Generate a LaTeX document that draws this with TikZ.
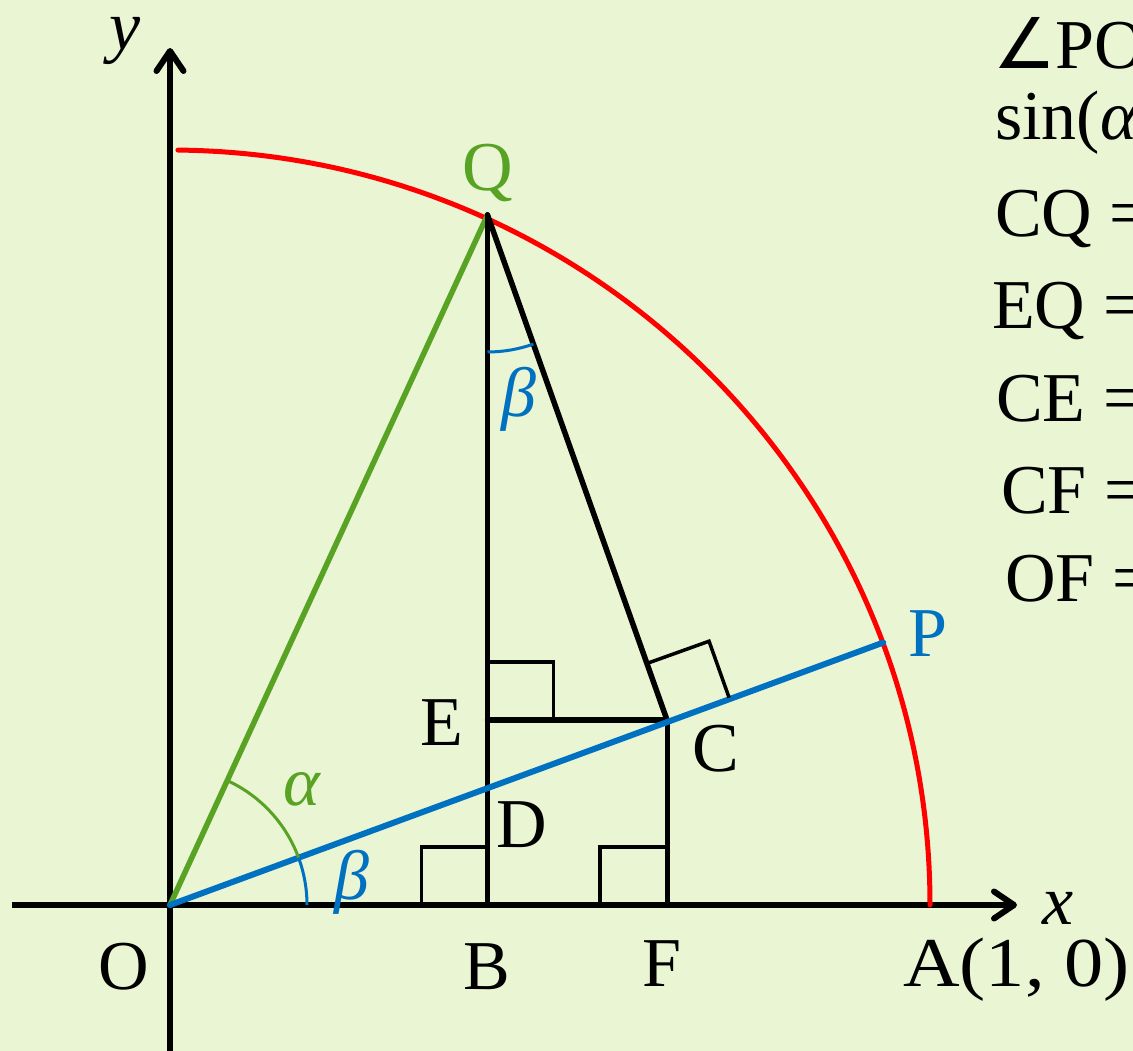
\documentclass[tikz,border=0pt]{standalone}
\usepackage{fontspec}
\setmainfont{Liberation Serif}
\newfontfamily\dejavu{DejaVu Sans}
\newfontfamily\widefont[FakeStretch=1.12]{Liberation Serif}
\usetikzlibrary{arrows.meta,calc,angles}
\definecolor{bgc}{RGB}{233,245,211}
\definecolor{gr}{RGB}{88,162,36}
\definecolor{bl}{RGB}{0,112,192}
\begin{document}
\begin{tikzpicture}[x=1pt,y=1pt,
  lab/.style={inner sep=0pt, anchor=base, font=\fontsize{70}{70}\selectfont},
  axisline/.style={line width=6pt, -{Straight Barb[length=20pt,width=27pt,round]}},
  seg/.style={line width=5.5pt, line cap=round},
  rmark/.style={line width=3.5pt},
  anglearc/.style={line width=3pt, angle radius=137pt}]
\useasboundingbox (0,0) rectangle (1133,1051);
\clip (0,0) rectangle (1133,1051);
\fill[bgc] (0,0) rectangle (1133,1051);
% points
\coordinate (O) at (170,146);
\coordinate (A) at (930,146);
\coordinate (Q) at (487.5,836);
\coordinate (B) at (487.5,146);
\coordinate (F) at (667,146);
\coordinate (C) at (667,331);
\coordinate (E) at (487.5,331);
\coordinate (P) at ($(O)+(20.2:760)$);
\coordinate (D) at (intersection of O--P and Q--B);
\coordinate (xs) at (12,146);
\coordinate (xe) at (1017,146);
\coordinate (ys) at (170,0);
\coordinate (ye) at (170,1003);
% axes
\draw[axisline] (xs) -- (xe);
\draw[axisline] (ys) -- (ye);
% unit arc
\draw[red, line width=5pt, line cap=round] (A) arc[start angle=0, end angle=89.4, x radius=760, y radius=755];
% segments
\draw[gr, seg] (O) -- (Q);
\draw[seg] (Q) -- (B);
\draw[seg, line join=round] (Q) -- (C);
\draw[seg] (E) -- (C);
\draw[line width=5pt] (C) -- (F);
\draw[bl, seg, line width=6pt] (O) -- (P);
% right angle marks
\draw[rmark] ($(B)+(-66,0)$) |- ($(B)+(0,58)$);
\draw[rmark] ($(F)+(-67,0)$) |- ($(F)+(0,58)$);
\draw[rmark] ($(E)+(0,58)$) -| ($(E)+(66,0)$);
\coordinate (c1) at ($(C)!60pt!(Q)$);
\coordinate (c3) at ($(C)!66pt!(P)$);
\draw[rmark] (c1) -- ($(c1)+(c3)-(C)$) -- (c3);
% angle arcs
\pic[draw=gr, anglearc] {angle=P--O--Q};
\pic[draw=bl, anglearc] {angle=A--O--P};
\pic[draw=bl, anglearc] {angle=B--Q--C};
% labels
\node[lab, text=gr] (lQ) at (488,860) {Q};
\node[lab, text=bl] (lP) at (928,394) {P};
\node[lab] (lE) at (442,305) {E};
\node[lab] (lC) at (716,279) {C};
\node[lab] (lD) at (522,203) {D};
\node[lab] (lB) at (487,61) {B};
\node[lab] (lF) at (662,64) {F};
\node[lab] (lO) at (124,61) {O};
\node[lab, anchor=base west, font=\fontsize{70}{70}\widefont] (lA) at (903,64) {A(1, 0)};
\node[lab] (lx) at (1058,126) {\textit{x}};
\node[lab] (ly) at (125,1001) {\textit{y}};
\node[lab, text=gr] (la) at (302,245) {\textit{α}};
\node[lab, text=bl] (lb1) at (352,151) {\textit{β}};
\node[lab, text=bl] (lb2) at (519,634) {\textit{β}};
% right-hand text
\node[lab, anchor=base west] (t1) at (993,982) {{\dejavu ∠}PO};
\node[lab, anchor=base west] (t2) at (995,911) {sin(\textit{α}};
\node[lab, anchor=base west] (t3) at (995,814) {CQ =};
\node[lab, anchor=base west] (t4) at (992,722) {EQ =};
\node[lab, anchor=base west] (t5) at (996,629) {CE =};
\node[lab, anchor=base west] (t6) at (1001,537) {CF =};
\node[lab, anchor=base west] (t7) at (1005,449) {OF =};
\end{tikzpicture}
\end{document}
